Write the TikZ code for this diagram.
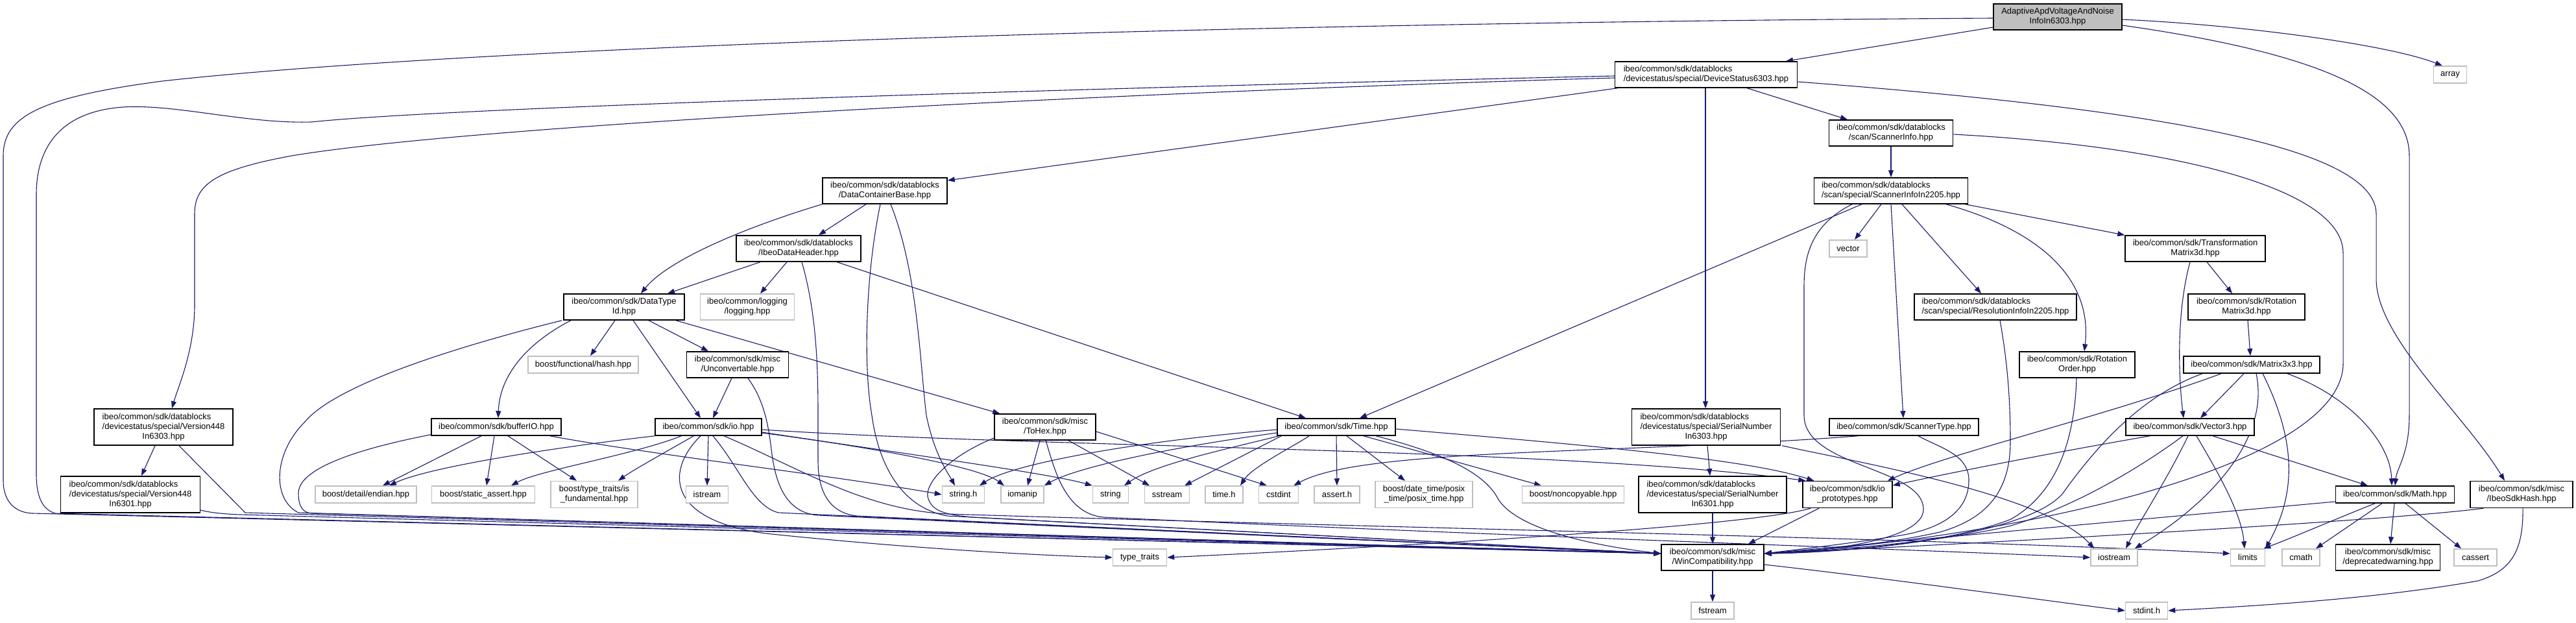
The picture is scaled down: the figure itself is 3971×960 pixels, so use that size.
\documentclass[tikz,border=0pt]{standalone}
\usepackage{fontspec}
\setmainfont{Liberation Sans}
\usetikzlibrary{arrows.meta,calc}
\definecolor{eb}{HTML}{191970}
\definecolor{sysg}{HTML}{BFBFBF}
\pgfdeclarelayer{bg}
\pgfsetlayers{bg,main}
\begin{document}
\begin{tikzpicture}[x=1pt,y=-1pt,
  box/.style={draw=black,line width=1.5pt,fill=white,inner sep=0pt,font=\fontsize{13}{15}\selectfont,align=center},
  sys/.style={box,draw=sysg},
  wh/.style 2 args={minimum width=#1pt,minimum height=#2pt},
  e/.style={draw=eb,line width=1.1pt,-{Triangle[length=11pt,width=8pt]}}]
\useasboundingbox (0,0) rectangle (3971,960);
% ---------------- nodes ----------------
\node[box,wh={198}{40},fill=sysg] (A) at (3172,26) {AdaptiveApdVoltageAndNoise\\InfoIn6303.hpp};
\node[sys,wh={51}{26}] (arr) at (3777,115) {array};
\node[box,wh={281}{40},align=left] (DS) at (2630,115) {ibeo/common/sdk/datablocks\\/devicestatus/special/DeviceStatus6303.hpp};
\node[box,wh={191}{40}] (SI) at (2915,205) {ibeo/common/sdk/datablocks\\/scan/ScannerInfo.hpp};
\node[box,wh={192}{40}] (DCB) at (1364,294) {ibeo/common/sdk/datablocks\\/DataContainerBase.hpp};
\node[box,wh={237}{40},align=left] (SIb) at (2915,294) {ibeo/common/sdk/datablocks\\/scan/special/ScannerInfoIn2205.hpp};
\node[box,wh={192}{40}] (IDH) at (1231,383) {ibeo/common/sdk/datablocks\\/IbeoDataHeader.hpp};
\node[sys,wh={58}{26}] (vec) at (2849,383) {vector};
\node[box,wh={216}{40}] (TM) at (3384,383) {ibeo/common/sdk/Transformation\\Matrix3d.hpp};
\node[box,wh={186}{40}] (DTI) at (962,473) {ibeo/common/sdk/DataType\\Id.hpp};
\node[sys,wh={145}{40}] (log) at (1152,473) {ibeo/common/logging\\/logging.hpp};
\node[box,wh={250}{40},align=left] (Res) at (3076,473) {ibeo/common/sdk/datablocks\\/scan/special/ResolutionInfoIn2205.hpp};
\node[box,wh={180}{40}] (RM) at (3463,473) {ibeo/common/sdk/Rotation\\Matrix3d.hpp};
\node[sys,wh={170}{26}] (bhash) at (899,562) {boost/functional/hash.hpp};
\node[box,wh={157}{40}] (Unc) at (1137,562) {ibeo/common/sdk/misc\\/Unconvertable.hpp};
\node[box,wh={178}{40}] (RO) at (3202,562) {ibeo/common/sdk/Rotation\\Order.hpp};
\node[box,wh={210}{26}] (M33) at (3471,562) {ibeo/common/sdk/Matrix3x3.hpp};
\node[box,wh={214}{56}] (Va) at (252,658) {\begin{tabular}{@{}l@{}}ibeo/common/sdk/datablocks\\/devicestatus/special/Version448\\\multicolumn{1}{@{}c@{}}{In6303.hpp}\end{tabular}};
\node[box,wh={200}{26}] (bio) at (765,658) {ibeo/common/sdk/bufferIO.hpp};
\node[box,wh={164}{26}] (io) at (1092,658) {ibeo/common/sdk/io.hpp};
\node[box,wh={156}{40}] (hex) at (1611,658) {ibeo/common/sdk/misc\\/ToHex.hpp};
\node[box,wh={182}{26}] (time) at (2060,658) {ibeo/common/sdk/Time.hpp};
\node[box,wh={229}{56}] (SNa) at (2630,658) {\begin{tabular}{@{}l@{}}ibeo/common/sdk/datablocks\\/devicestatus/special/SerialNumber\\\multicolumn{1}{@{}c@{}}{In6303.hpp}\end{tabular}};
\node[box,wh={230}{26}] (ST) at (2935,658) {ibeo/common/sdk/ScannerType.hpp};
\node[box,wh={198}{26}] (V3) at (3376,658) {ibeo/common/sdk/Vector3.hpp};
\node[box,wh={215}{56}] (Vb) at (201,762) {\begin{tabular}{@{}l@{}}ibeo/common/sdk/datablocks\\/devicestatus/special/Version448\\\multicolumn{1}{@{}c@{}}{In6301.hpp}\end{tabular}};
\node[sys,wh={156}{26}] (endi) at (564,762) {boost/detail/endian.hpp};
\node[sys,wh={159}{26}] (sa) at (745,762) {boost/static\_assert.hpp};
\node[sys,wh={134}{41}] (isf) at (916,762) {boost/type\_traits/is\\\_fundamental.hpp};
\node[sys,wh={65}{26}] (istr) at (1090,762) {istream};
\node[sys,wh={65}{26}] (strh) at (1485,762) {string.h};
\node[sys,wh={66}{26}] (iom) at (1576,762) {iomanip};
\node[sys,wh={55}{26}] (str) at (1712,762) {string};
\node[sys,wh={69}{26}] (sst) at (1799,762) {sstream};
\node[sys,wh={58}{26}] (timeh) at (1887,762) {time.h};
\node[sys,wh={61}{26}] (cstd) at (1971,762) {cstdint};
\node[sys,wh={70}{26}] (ass) at (2061,762) {assert.h};
\node[sys,wh={150}{41}] (pos) at (2195,762) {boost/date\_time/posix\\\_time/posix\_time.hpp};
\node[sys,wh={157}{26}] (nonc) at (2425,762) {boost/noncopyable.hpp};
\node[box,wh={228}{56}] (SNb) at (2640,762) {\begin{tabular}{@{}l@{}}ibeo/common/sdk/datablocks\\/devicestatus/special/SerialNumber\\\multicolumn{1}{@{}c@{}}{In6301.hpp}\end{tabular}};
\node[box,wh={138}{41}] (iop) at (2848,762) {ibeo/common/sdk/io\\\_prototypes.hpp};
\node[box,wh={183}{26}] (Math) at (3692,762) {ibeo/common/sdk/Math.hpp};
\node[box,wh={158}{41}] (Hash) at (3887,762) {ibeo/common/sdk/misc\\/IbeoSdkHash.hpp};
\node[sys,wh={83}{26}] (tt) at (1757,859) {type\_traits};
\node[box,wh={158}{40}] (WinC) at (2640,859) {ibeo/common/sdk/misc\\/WinCompatibility.hpp};
\node[sys,wh={72}{26}] (iost) at (3259,859) {iostream};
\node[sys,wh={53}{26}] (lim) at (3465,859) {limits};
\node[sys,wh={58}{26}] (cmath) at (3547,859) {cmath};
\node[box,wh={161}{40}] (dep) at (3681,859) {ibeo/common/sdk/misc\\/deprecatedwarning.hpp};
\node[sys,wh={66}{26}] (cass) at (3816,859) {cassert};
\node[sys,wh={66}{26}] (fst) at (2640,941) {fstream};
\node[sys,wh={65}{26}] (stdh) at (3309,941) {stdint.h};
\coordinate (wcl) at ($(WinC.west)+(0,-6)$);
\coordinate (wcr) at ($(WinC.east)+(0,-6)$);
% ---------------- edges ----------------
\begin{pgfonlayer}{bg}
% Adaptive
\draw[e] ($(A.west)+(0,16)$) -- ($(DS.north)+(123,0)$);
\draw[e] ($(A.east)+(0,4)$) .. controls (3450,38) and (3680,68) .. ($(arr.north)+(-12,0)$);
\draw[e] ($(A.east)+(0,13)$) .. controls (3560,80) and (3714,140) .. (3714,240) -- (3714,640) .. controls (3714,700) and (3695,720) .. (Math.north);
\draw[e] ($(A.west)+(0,2)$) .. controls (1800,36) and (700,75) .. (250,125) .. controls (60,150) and (5,180) .. (5,240) -- (5,740) .. controls (5,775) and (25,790) .. (50,791) -- (wcl);
% DeviceStatus6303
\draw[e] ($(DS.south west)+(5,0)$) -- ($(DCB.east)+(0,-16)$);
\draw[e] ($(DS.west)+(0,5)$) .. controls (1800,140) and (750,190) .. (450,240) .. controls (330,262) and (300,285) .. (300,330) -- (300,470) .. controls (300,540) and (275,595) .. ($(Va.north)+(13,0)$);
\draw[e] ($(DS.west)+(0,2)$) .. controls (1700,135) and (700,165) .. (480,188) .. controls (380,191) and (270,160) .. (190,165) .. controls (90,172) and (56,230) .. (56,300) -- (56,730) .. controls (56,765) and (65,785) .. (85,791) -- (wcl);
\draw[e] ($(DS.south)+(-1,0)$) -- ($(SNa.north)+(-1,0)$);
\draw[e] ($(DS.south)+(63,0)$) -- ($(SI.north)+(-67,0)$);
\draw[e] ($(DS.east)+(0,11)$) .. controls (3350,170) and (3663,230) .. (3663,330) -- (3663,430) .. controls (3663,520) and (3800,640) .. ($(Hash.north)+(-26,0)$);
% ScannerInfo
\draw[e] (SI.south) -- (SIb.north);
\draw[e] ($(SI.east)+(0,2)$) .. controls (3350,225) and (3612,290) .. (3612,390) -- (3612,560) .. controls (3612,720) and (3100,830) .. (wcr);
% ScannerInfoIn2205
\draw[e] ($(SIb.south)+(-45,0)$) -- ($(time.north)+(36,0)$);
\draw[e] ($(SIb.south)+(-15,0)$) -- ($(vec.north)+(10,0)$);
\draw[e] ($(SIb.south)+(-60,0)$) .. controls (2795,345) and (2781,390) .. (2781,440) -- (2781,640) .. controls (2781,720) and (2965,720) .. (2965,785) .. controls (2965,835) and (2800,850) .. (wcr);
\draw[e] (SIb.south) -- ($(ST.north)+(-1,0)$);
\draw[e] ($(SIb.south)+(17,0)$) -- ($(Res.north)+(-22,0)$);
\draw[e] ($(SIb.south)+(85,0)$) .. controls (3160,360) and (3225,440) .. ($(RO.north)+(11,0)$);
\draw[e] ($(SIb.south east)+(-5,0)$) -- (TM.north west);
% DataContainerBase
\draw[e] (DCB.south west) .. controls (1150,350) and (1030,400) .. ($(DTI.north)+(26,0)$);
\draw[e] ($(DCB.south)+(-29,0)$) -- ($(IDH.north)+(31,0)$);
\draw[e] ($(DCB.south)+(-7,0)$) .. controls (1335,420) and (1330,560) .. (1344,640) .. controls (1352,700) and (1380,780) .. (1460,795) -- (wcl);
\draw[e] ($(DCB.south)+(9,0)$) .. controls (1415,420) and (1418,560) .. (1428,640) .. controls (1440,700) and (1462,730) .. ($(strh.north)+(-13,0)$);
% IbeoDataHeader
\draw[e] ($(IDH.south)+(-59,0)$) -- ($(DTI.north)+(67,0)$);
\draw[e] ($(IDH.south)+(-18,0)$) -- ($(log.north)+(20,0)$);
\draw[e] ($(IDH.south)+(5,0)$) .. controls (1258,480) and (1261,560) .. (1261,640) -- (1261,710) .. controls (1261,760) and (1280,790) .. (1320,795) -- (wcl);
\draw[e] ($(IDH.south)+(59,0)$) -- ($(time.north)+(-47,0)$);
% DataTypeId
\draw[e] ($(DTI.south)+(-14,0)$) -- ($(bhash.north)+(11,0)$);
\draw[e] ($(DTI.south)+(-82,0)$) .. controls (810,530) and (770,580) .. ($(bio.north)+(3,0)$);
\draw[e] ($(DTI.south west)+(-2,0)$) .. controls (720,530) and (520,590) .. (470,650) .. controls (420,700) and (420,770) .. (460,790) -- (wcl);
\draw[e] ($(DTI.south)+(14,0)$) -- ($(io.north)+(-12,0)$);
\draw[e] ($(DTI.south)+(38,0)$) -- ($(Unc.north)+(-45,0)$);
\draw[e] ($(DTI.south east)+(-14,0)$) -- ($(hex.north west)+(9,0)$);
% Unconvertable
\draw[e] ($(Unc.south)+(-9,0)$) -- ($(io.north)+(7,0)$);
\draw[e] ($(Unc.south)+(16,0)$) .. controls (1180,620) and (1185,660) .. (1190,700) .. controls (1198,760) and (1220,790) .. (1260,794) -- (wcl);
% Version448
\draw[e] ($(Va.south)+(-13,0)$) -- ($(Vb.north)+(17,0)$);
\draw[e] ($(Va.south)+(24,0)$) -- (378,790) -- (wcl);
\draw[e] ($(Vb.east)+(0,24)$) .. controls (320,789) and (340,792) .. (370,793) -- (wcl);
% bufferIO
\draw[e] ($(bio.south)+(-23,0)$) -- ($(endi.north)+(26,0)$);
\draw[e] ($(bio.south)+(-3,0)$) -- ($(sa.north)+(5,0)$);
\draw[e] ($(bio.south)+(18,0)$) -- ($(isf.north)+(-27,0)$);
\draw[e] ($(bio.south west)+(0,-2)$) .. controls (560,690) and (460,720) .. (460,760) .. controls (460,782) and (468,790) .. (480,791) -- (wcl);
\draw[e] ($(bio.south east)+(-18,0)$) .. controls (1000,700) and (1300,735) .. (strh.west);
% io
\draw[e] (io.south west) .. controls (850,690) and (660,720) .. ($(endi.north)+(36,0)$);
\draw[e] ($(io.south west)+(41,0)$) .. controls (980,700) and (830,725) .. ($(sa.north)+(43,0)$);
\draw[e] ($(io.south west)+(60,0)$) .. controls (1020,700) and (975,725) .. ($(isf.north)+(37,0)$);
\draw[e] (io.south) -- (istr.north);
\draw[e] ($(io.east)+(0,9)$) .. controls (1350,690) and (1510,720) .. ($(iom.north)+(-28,0)$);
\draw[e] ($(io.east)+(0,8)$) .. controls (1400,700) and (1620,730) .. (str.north west);
\draw[e] ($(io.east)+(0,4)$) .. controls (1600,690) and (2400,690) .. ($(iop.north west)+(5,0)$);
\draw[e] ($(io.south)+(24,0)$) .. controls (1230,720) and (1330,785) .. (1460,792) .. controls (2200,815) and (3000,830) .. ($(lim.west)+(0,-6)$);
\draw[e] ($(io.south)+(7,0)$) .. controls (1140,720) and (1160,780) .. (1200,790) -- (wcl);
\draw[e] ($(io.south)+(-12,0)$) .. controls (1030,720) and (1020,800) .. (1180,822) .. controls (1400,845) and (1600,856) .. (tt.west);
% ToHex
\draw[e] ($(hex.south)+(-8,0)$) -- ($(iom.north)+(8,0)$);
\draw[e] ($(hex.south)+(36,0)$) -- ($(sst.north)+(-27,0)$);
\draw[e] ($(hex.east)+(0,7)$) -- ($(cstd.north)+(-18,0)$);
\draw[e] ($(hex.west)+(0,17)$) .. controls (1470,700) and (1427,740) .. (1430,765) .. controls (1435,785) and (1450,793) .. (1500,797) -- (wcl);
\draw[e] ($(hex.south)+(1,0)$) .. controls (1625,720) and (1640,790) .. (1700,797) .. controls (2300,825) and (2900,845) .. (iost.west);
% Time
\draw[e] ($(time.west)+(0,4)$) .. controls (1750,680) and (1560,715) .. ($(strh.north)+(25,0)$);
\draw[e] ($(time.west)+(0,9)$) .. controls (1800,690) and (1660,720) .. (iom.north east);
\draw[e] ($(time.south west)+(3,0)$) .. controls (1900,690) and (1780,715) .. ($(str.north)+(21,0)$);
\draw[e] ($(time.south west)+(7,0)$) -- ($(sst.north)+(27,0)$);
\draw[e] ($(time.south west)+(50,0)$) .. controls (1990,690) and (1930,720) .. ($(timeh.north)+(25,0)$);
\draw[e] (time.south) -- (ass.north);
\draw[e] ($(time.south)+(16,0)$) -- ($(pos.north)+(-29,0)$);
\draw[e] ($(time.south)+(42,0)$) -- ($(nonc.north)+(-49,0)$);
\draw[e] ($(time.south)+(61,0)$) .. controls (2230,700) and (2290,730) .. (2310,770) .. controls (2340,815) and (2450,840) .. (wcl);
\draw[e] ($(time.east)+(0,3)$) .. controls (2500,690) and (2700,710) .. ($(iop.north west)+(18,0)$);
% ScannerType
\draw[e] ($(ST.south)+(22,0)$) .. controls (2990,690) and (3035,700) .. (3035,740) .. controls (3035,790) and (2990,815) .. (2930,825) .. controls (2850,838) and (2760,848) .. (wcr);
\draw[e] ($(ST.south)+(-71,0)$) .. controls (2500,700) and (2100,690) .. ($(cstd.north east)+(-8,0)$);
% SerialNumber
\draw[e] ($(SNa.south)+(2,0)$) -- ($(SNb.north)+(-4,0)$);
\draw[e] ($(SNa.south east)+(2,0)$) .. controls (2850,710) and (3150,760) .. ($(iost.north west)+(6,0)$);
\draw[e] (SNb.south) -- (WinC.north);
% io_prototypes
\draw[e] ($(iop.south)+(-44,0)$) -- ($(WinC.north)+(55,0)$);
\draw[e] ($(iop.south west)+(13,0)$) .. controls (2700,810) and (2200,840) .. (tt.east);
% Vector3
\draw[e] ($(V3.south west)+(38,0)$) .. controls (3150,700) and (3000,730) .. ($(iop.east)+(0,-14)$);
\draw[e] ($(V3.south)+(-11,0)$) .. controls (3300,720) and (3200,780) .. (3100,810) .. controls (3000,835) and (2800,850) .. (wcr);
\draw[e] ($(V3.south)+(-3,0)$) .. controls (3340,740) and (3300,800) .. ($(iost.north)+(18,0)$);
\draw[e] ($(V3.south)+(10,0)$) .. controls (3420,730) and (3455,790) .. ($(lim.north)+(-5,0)$);
\draw[e] ($(V3.south)+(35,0)$) -- ($(Math.north)+(-42,0)$);
% Transformation / Rotation
\draw[e] ($(TM.south)+(18,0)$) -- ($(RM.north)+(-22,0)$);
\draw[e] ($(TM.south)+(-8,0)$) .. controls (3355,480) and (3358,580) .. ($(V3.north)+(-10,0)$);
\draw[e] ($(RM.south)+(2,0)$) -- ($(M33.north)+(-2,0)$);
% Matrix3x3
\draw[e] ($(M33.south)+(-76,0)$) .. controls (3300,610) and (3230,690) .. (3180,760) .. controls (3130,820) and (2900,850) .. (wcr);
\draw[e] ($(M33.south)+(-47,0)$) .. controls (3250,640) and (3000,700) .. ($(iop.north east)+(-8,0)$);
\draw[e] ($(M33.south)+(-12,0)$) -- ($(V3.north)+(16,0)$);
\draw[e] ($(M33.south)+(7,0)$) .. controls (3500,680) and (3400,780) .. ($(iost.north east)+(-5,0)$);
\draw[e] ($(M33.south)+(17,0)$) .. controls (3540,680) and (3540,760) .. (lim.north east);
\draw[e] ($(M33.south)+(55,0)$) .. controls (3620,610) and (3685,680) .. ($(Math.north)+(-5,0)$);
% Math
\draw[e] ($(Math.south)+(-31,0)$) .. controls (3600,800) and (3530,830) .. ($(lim.north east)+(-3,0)$);
\draw[e] ($(Math.south)+(-20,0)$) -- ($(cmath.north)+(23,0)$);
\draw[e] ($(Math.south)+(-1,0)$) -- ($(dep.north)+(4,0)$);
\draw[e] ($(Math.south)+(16,0)$) -- ($(cass.north)+(-22,0)$);
\draw[e] ($(Math.west)+(0,11)$) -- (wcr);
% IbeoSdkHash
\draw[e] ($(Hash.south west)+(21,0)$) .. controls (3700,800) and (3200,830) .. (wcr);
\draw[e] ($(Hash.south)+(2,0)$) .. controls (3890,850) and (3870,880) .. (3820,895) .. controls (3650,925) and (3450,935) .. (stdh.east);
% Resolution / RotationOrder
\draw[e] ($(Res.south)+(7,0)$) .. controls (3095,560) and (3099,620) .. (3099,680) .. controls (3099,760) and (3060,800) .. (2990,820) .. controls (2900,840) and (2780,850) .. (wcr);
\draw[e] ($(RO.south)+(-1,0)$) .. controls (3198,680) and (3170,760) .. (3100,800) .. controls (3000,840) and (2800,852) .. (wcr);
% WinCompatibility
\draw[e] (WinC.south) -- (fst.north);
\draw[e] ($(WinC.east)+(0,11)$) .. controls (2900,890) and (3150,925) .. (stdh.west);
\end{pgfonlayer}
\end{tikzpicture}
\end{document}
